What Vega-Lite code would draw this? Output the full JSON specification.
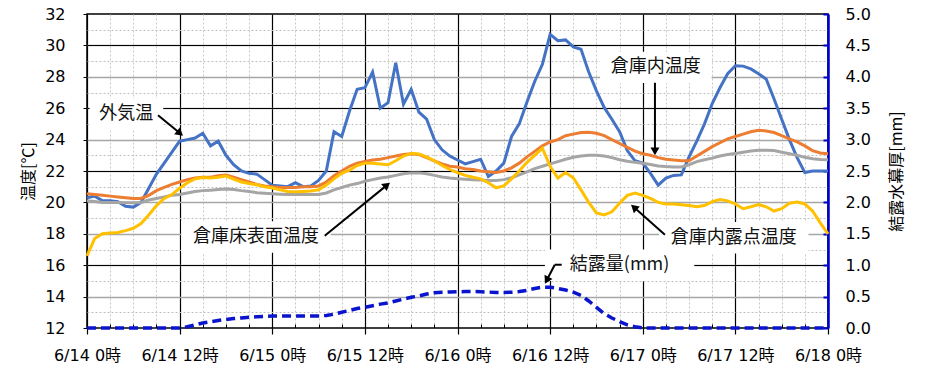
{
  "$schema": "https://vega.github.io/schema/vega-lite/v6.json",
  "width": 741,
  "height": 314,
  "autosize": {"type": "none"},
  "padding": {"left": 87, "top": 14, "right": 102, "bottom": 43},
  "background": "white",
  "config": {
    "view": {"stroke": "#000000", "strokeWidth": 1.5},
    "axis": {
      "labelFont": "DejaVu Sans, Noto Sans CJK JP",
      "labelFontSize": 16,
      "labelColor": "#000000",
      "titleFont": "Noto Sans CJK JP",
      "titleFontWeight": "normal",
      "titleFontSize": 16,
      "titleColor": "#000000",
      "labelFlush": false,
      "labelOverlap": false
    }
  },
  "datasets": {
    "series": [
      {"hour": 0, "outdoor": 20.3, "indoor": 20.55, "floor": 20.1, "dewpoint": 16.6, "cond": 0},
      {"hour": 1, "outdoor": 20.4, "indoor": 20.5, "floor": 20.05, "dewpoint": 17.7, "cond": 0},
      {"hour": 2, "outdoor": 20.1, "indoor": 20.45, "floor": 20.0, "dewpoint": 18.0, "cond": 0},
      {"hour": 3, "outdoor": 20.1, "indoor": 20.4, "floor": 20.0, "dewpoint": 18.05, "cond": 0},
      {"hour": 4, "outdoor": 20.05, "indoor": 20.35, "floor": 20.0, "dewpoint": 18.08, "cond": 0},
      {"hour": 5, "outdoor": 19.75, "indoor": 20.3, "floor": 19.98, "dewpoint": 18.2, "cond": 0},
      {"hour": 6, "outdoor": 19.7, "indoor": 20.25, "floor": 19.97, "dewpoint": 18.35, "cond": 0},
      {"hour": 7, "outdoor": 20.0, "indoor": 20.25, "floor": 20.0, "dewpoint": 18.65, "cond": 0},
      {"hour": 8, "outdoor": 20.9, "indoor": 20.45, "floor": 20.15, "dewpoint": 19.2, "cond": 0},
      {"hour": 9, "outdoor": 21.8, "indoor": 20.75, "floor": 20.25, "dewpoint": 19.8, "cond": 0},
      {"hour": 10, "outdoor": 22.5, "indoor": 20.95, "floor": 20.35, "dewpoint": 20.25, "cond": 0},
      {"hour": 11, "outdoor": 23.2, "indoor": 21.15, "floor": 20.45, "dewpoint": 20.5, "cond": 0},
      {"hour": 12, "outdoor": 23.9, "indoor": 21.3, "floor": 20.5, "dewpoint": 20.9, "cond": 0},
      {"hour": 13, "outdoor": 24.0, "indoor": 21.45, "floor": 20.6, "dewpoint": 21.25, "cond": 0.02},
      {"hour": 14, "outdoor": 24.1, "indoor": 21.55, "floor": 20.7, "dewpoint": 21.5, "cond": 0.05},
      {"hour": 15, "outdoor": 24.4, "indoor": 21.6, "floor": 20.75, "dewpoint": 21.58, "cond": 0.08},
      {"hour": 16, "outdoor": 23.6, "indoor": 21.6, "floor": 20.78, "dewpoint": 21.55, "cond": 0.1},
      {"hour": 17, "outdoor": 23.9, "indoor": 21.7, "floor": 20.82, "dewpoint": 21.6, "cond": 0.12},
      {"hour": 18, "outdoor": 23.0, "indoor": 21.75, "floor": 20.86, "dewpoint": 21.68, "cond": 0.135},
      {"hour": 19, "outdoor": 22.4, "indoor": 21.6, "floor": 20.82, "dewpoint": 21.48, "cond": 0.15},
      {"hour": 20, "outdoor": 22.0, "indoor": 21.45, "floor": 20.75, "dewpoint": 21.3, "cond": 0.16},
      {"hour": 21, "outdoor": 21.85, "indoor": 21.3, "floor": 20.7, "dewpoint": 21.2, "cond": 0.17},
      {"hour": 22, "outdoor": 21.8, "indoor": 21.15, "floor": 20.62, "dewpoint": 21.12, "cond": 0.18},
      {"hour": 23, "outdoor": 21.45, "indoor": 21.05, "floor": 20.58, "dewpoint": 21.0, "cond": 0.185},
      {"hour": 24, "outdoor": 21.1, "indoor": 21.0, "floor": 20.55, "dewpoint": 20.92, "cond": 0.19},
      {"hour": 25, "outdoor": 21.05, "indoor": 20.95, "floor": 20.52, "dewpoint": 20.8, "cond": 0.19},
      {"hour": 26, "outdoor": 21.0, "indoor": 20.95, "floor": 20.5, "dewpoint": 20.7, "cond": 0.19},
      {"hour": 27, "outdoor": 21.25, "indoor": 20.95, "floor": 20.5, "dewpoint": 20.68, "cond": 0.19},
      {"hour": 28, "outdoor": 21.0, "indoor": 21.0, "floor": 20.5, "dewpoint": 20.7, "cond": 0.19},
      {"hour": 29, "outdoor": 21.05, "indoor": 21.0, "floor": 20.5, "dewpoint": 20.72, "cond": 0.19},
      {"hour": 30, "outdoor": 21.4, "indoor": 21.05, "floor": 20.5, "dewpoint": 20.8, "cond": 0.19},
      {"hour": 31, "outdoor": 22.0, "indoor": 21.3, "floor": 20.6, "dewpoint": 21.1, "cond": 0.2},
      {"hour": 32, "outdoor": 24.5, "indoor": 21.7, "floor": 20.8, "dewpoint": 21.5, "cond": 0.22},
      {"hour": 33, "outdoor": 24.2, "indoor": 22.0, "floor": 20.95, "dewpoint": 21.85, "cond": 0.25},
      {"hour": 34, "outdoor": 25.8, "indoor": 22.3, "floor": 21.1, "dewpoint": 22.05, "cond": 0.28},
      {"hour": 35, "outdoor": 27.2, "indoor": 22.5, "floor": 21.2, "dewpoint": 22.35, "cond": 0.31},
      {"hour": 36, "outdoor": 27.3, "indoor": 22.6, "floor": 21.35, "dewpoint": 22.5, "cond": 0.33},
      {"hour": 37, "outdoor": 28.3, "indoor": 22.7, "floor": 21.45, "dewpoint": 22.5, "cond": 0.355},
      {"hour": 38, "outdoor": 26.0, "indoor": 22.75, "floor": 21.55, "dewpoint": 22.45, "cond": 0.38},
      {"hour": 39, "outdoor": 26.35, "indoor": 22.85, "floor": 21.62, "dewpoint": 22.4, "cond": 0.4},
      {"hour": 40, "outdoor": 28.9, "indoor": 22.95, "floor": 21.72, "dewpoint": 22.65, "cond": 0.43},
      {"hour": 41, "outdoor": 26.25, "indoor": 23.05, "floor": 21.82, "dewpoint": 22.95, "cond": 0.46},
      {"hour": 42, "outdoor": 27.2, "indoor": 23.1, "floor": 21.88, "dewpoint": 23.12, "cond": 0.49},
      {"hour": 43, "outdoor": 25.75, "indoor": 23.05, "floor": 21.88, "dewpoint": 23.08, "cond": 0.51},
      {"hour": 44, "outdoor": 25.3, "indoor": 22.85, "floor": 21.82, "dewpoint": 22.9, "cond": 0.54},
      {"hour": 45, "outdoor": 24.0, "indoor": 22.65, "floor": 21.72, "dewpoint": 22.65, "cond": 0.56},
      {"hour": 46, "outdoor": 23.35, "indoor": 22.45, "floor": 21.62, "dewpoint": 22.35, "cond": 0.57},
      {"hour": 47, "outdoor": 22.95, "indoor": 22.3, "floor": 21.55, "dewpoint": 22.1, "cond": 0.575},
      {"hour": 48, "outdoor": 22.7, "indoor": 22.25, "floor": 21.5, "dewpoint": 21.9, "cond": 0.578},
      {"hour": 49, "outdoor": 22.45, "indoor": 22.15, "floor": 21.48, "dewpoint": 21.72, "cond": 0.58},
      {"hour": 50, "outdoor": 22.6, "indoor": 22.1, "floor": 21.45, "dewpoint": 21.6, "cond": 0.58},
      {"hour": 51, "outdoor": 22.75, "indoor": 22.0, "floor": 21.42, "dewpoint": 21.5, "cond": 0.578},
      {"hour": 52, "outdoor": 21.65, "indoor": 21.95, "floor": 21.4, "dewpoint": 21.25, "cond": 0.572},
      {"hour": 53, "outdoor": 22.0, "indoor": 21.9, "floor": 21.4, "dewpoint": 20.93, "cond": 0.567},
      {"hour": 54, "outdoor": 22.5, "indoor": 22.0, "floor": 21.45, "dewpoint": 21.05, "cond": 0.567},
      {"hour": 55, "outdoor": 24.2, "indoor": 22.2, "floor": 21.57, "dewpoint": 21.5, "cond": 0.57},
      {"hour": 56, "outdoor": 25.0, "indoor": 22.5, "floor": 21.75, "dewpoint": 22.0, "cond": 0.58},
      {"hour": 57, "outdoor": 26.4, "indoor": 22.9, "floor": 21.95, "dewpoint": 22.55, "cond": 0.6},
      {"hour": 58, "outdoor": 27.7, "indoor": 23.25, "floor": 22.15, "dewpoint": 23.0, "cond": 0.63},
      {"hour": 59, "outdoor": 28.8, "indoor": 23.6, "floor": 22.3, "dewpoint": 23.45, "cond": 0.65},
      {"hour": 60, "outdoor": 30.7, "indoor": 23.85, "floor": 22.45, "dewpoint": 22.3, "cond": 0.65},
      {"hour": 61, "outdoor": 30.3, "indoor": 24.0, "floor": 22.6, "dewpoint": 21.55, "cond": 0.63},
      {"hour": 62, "outdoor": 30.35, "indoor": 24.25, "floor": 22.75, "dewpoint": 21.9, "cond": 0.605},
      {"hour": 63, "outdoor": 29.9, "indoor": 24.35, "floor": 22.88, "dewpoint": 21.57, "cond": 0.57},
      {"hour": 64, "outdoor": 29.75, "indoor": 24.45, "floor": 22.95, "dewpoint": 20.8, "cond": 0.52},
      {"hour": 65, "outdoor": 28.3, "indoor": 24.47, "floor": 23.0, "dewpoint": 20.0, "cond": 0.43},
      {"hour": 66, "outdoor": 27.1, "indoor": 24.4, "floor": 23.0, "dewpoint": 19.33, "cond": 0.33},
      {"hour": 67, "outdoor": 26.05, "indoor": 24.25, "floor": 22.95, "dewpoint": 19.2, "cond": 0.23},
      {"hour": 68, "outdoor": 25.3, "indoor": 24.0, "floor": 22.85, "dewpoint": 19.4, "cond": 0.16},
      {"hour": 69, "outdoor": 24.5, "indoor": 23.75, "floor": 22.72, "dewpoint": 19.95, "cond": 0.1},
      {"hour": 70, "outdoor": 23.3, "indoor": 23.5, "floor": 22.62, "dewpoint": 20.45, "cond": 0.05},
      {"hour": 71, "outdoor": 22.65, "indoor": 23.27, "floor": 22.55, "dewpoint": 20.6, "cond": 0.02},
      {"hour": 72, "outdoor": 22.5, "indoor": 23.1, "floor": 22.5, "dewpoint": 20.45, "cond": 0},
      {"hour": 73, "outdoor": 21.85, "indoor": 23.0, "floor": 22.42, "dewpoint": 20.25, "cond": 0},
      {"hour": 74, "outdoor": 21.1, "indoor": 22.85, "floor": 22.32, "dewpoint": 20.0, "cond": 0},
      {"hour": 75, "outdoor": 21.55, "indoor": 22.75, "floor": 22.28, "dewpoint": 19.9, "cond": 0},
      {"hour": 76, "outdoor": 21.72, "indoor": 22.7, "floor": 22.26, "dewpoint": 19.9, "cond": 0},
      {"hour": 77, "outdoor": 21.75, "indoor": 22.65, "floor": 22.26, "dewpoint": 19.85, "cond": 0},
      {"hour": 78, "outdoor": 22.9, "indoor": 22.65, "floor": 22.4, "dewpoint": 19.8, "cond": 0},
      {"hour": 79, "outdoor": 23.9, "indoor": 22.95, "floor": 22.6, "dewpoint": 19.72, "cond": 0},
      {"hour": 80, "outdoor": 25.0, "indoor": 23.25, "floor": 22.72, "dewpoint": 19.8, "cond": 0},
      {"hour": 81, "outdoor": 26.3, "indoor": 23.55, "floor": 22.82, "dewpoint": 20.05, "cond": 0},
      {"hour": 82, "outdoor": 27.3, "indoor": 23.8, "floor": 22.95, "dewpoint": 20.18, "cond": 0},
      {"hour": 83, "outdoor": 28.2, "indoor": 24.05, "floor": 23.05, "dewpoint": 20.1, "cond": 0},
      {"hour": 84, "outdoor": 28.7, "indoor": 24.2, "floor": 23.12, "dewpoint": 19.9, "cond": 0},
      {"hour": 85, "outdoor": 28.68, "indoor": 24.35, "floor": 23.2, "dewpoint": 19.6, "cond": 0},
      {"hour": 86, "outdoor": 28.5, "indoor": 24.5, "floor": 23.28, "dewpoint": 19.72, "cond": 0},
      {"hour": 87, "outdoor": 28.2, "indoor": 24.6, "floor": 23.32, "dewpoint": 19.86, "cond": 0},
      {"hour": 88, "outdoor": 27.85, "indoor": 24.55, "floor": 23.32, "dewpoint": 19.72, "cond": 0},
      {"hour": 89, "outdoor": 26.6, "indoor": 24.45, "floor": 23.3, "dewpoint": 19.45, "cond": 0},
      {"hour": 90, "outdoor": 25.3, "indoor": 24.25, "floor": 23.2, "dewpoint": 19.6, "cond": 0},
      {"hour": 91, "outdoor": 24.0, "indoor": 24.05, "floor": 23.1, "dewpoint": 19.95, "cond": 0},
      {"hour": 92, "outdoor": 22.85, "indoor": 23.85, "floor": 23.0, "dewpoint": 20.02, "cond": 0},
      {"hour": 93, "outdoor": 21.9, "indoor": 23.6, "floor": 22.87, "dewpoint": 19.9, "cond": 0},
      {"hour": 94, "outdoor": 22.0, "indoor": 23.3, "floor": 22.78, "dewpoint": 19.45, "cond": 0},
      {"hour": 95, "outdoor": 22.0, "indoor": 23.15, "floor": 22.73, "dewpoint": 18.7, "cond": 0},
      {"hour": 96, "outdoor": 22.0, "indoor": 23.1, "floor": 22.72, "dewpoint": 18.0, "cond": 0}
    ],
    "notes": [
      {"label": "外気温", "hour": 5.1, "temp": 25.6},
      {"label": "倉庫床表面温度", "hour": 21.9, "temp": 17.8},
      {"label": "倉庫内温度", "hour": 73.7, "temp": 28.6},
      {"label": "倉庫内露点温度", "hour": 83.8, "temp": 17.75},
      {"label": "結露量(mm)", "hour": 69.0, "temp": 16.0}
    ],
    "leaders": [
      {"sx": 9.2, "st": 25.55, "ex": 12.05, "et": 24.4, "tip": 1},
      {"sx": 30.8, "st": 17.88, "ex": 38.86, "et": 21.1, "tip": 1},
      {"sx": 73.58, "st": 27.62, "ex": 73.58, "et": 23.25, "tip": 1},
      {"sx": 74.87, "st": 17.94, "ex": 70.86, "et": 19.69, "tip": 1},
      {"sx": 60.6, "st": 16.03, "ex": 59.56, "et": 15.04, "tip": 1},
      {"sx": 60.6, "st": 16.03, "ex": 61.5, "et": 16.03, "tip": 0}
    ]
  },
  "resolve": {"scale": {"y": "independent"}, "axis": {"x": "independent", "y": "independent"}},
  "layer": [
    {
      "data": {"name": "series"},
      "mark": {"type": "line", "color": "#0A14CC", "strokeWidth": 3.5, "strokeDash": [9, 5]},
      "encoding": {
        "x": {"field": "hour", "type": "quantitative", "scale": {"domain": [0, 96], "nice": false, "zero": false},
          "axis": {"orient": "bottom", "values": [3, 6, 9, 15, 18, 21, 27, 30, 33, 39, 42, 45, 51, 54, 57, 63, 66, 69, 75, 78, 81, 87, 90, 93],
            "labels": false, "domain": false, "ticks": true, "tickSize": -4, "tickColor": "#000000", "tickWidth": 1,
            "grid": true, "gridColor": "#C8C8C8", "gridDash": [2, 2], "gridWidth": 1, "title": null}},
        "y": {"field": "cond", "type": "quantitative", "scale": {"domain": [0, 5], "nice": false, "zero": false},
          "axis": {"orient": "right", "values": [0, 0.5, 1, 1.5, 2, 2.5, 3, 3.5, 4, 4.5, 5], "format": ".1f", "grid": false,
            "domain": true, "domainColor": "#0000CC", "domainWidth": 2.5, "ticks": true, "tickColor": "#0000CC", "tickWidth": 2, "tickSize": -5,
            "labelPadding": 22, "title": "結露水幕厚[mm]", "titleAngle": -90, "titleX": 68, "titleY": 157,
            "titleAlign": "center", "titleBaseline": "middle"}}
      }
    },
    {
      "data": {"name": "notes"},
      "transform": [
        {"calculate": "length(datum.label) * 2.45 + 2.2", "as": "w"},
        {"calculate": "datum.hour - datum.w / 2", "as": "bx1"},
        {"calculate": "datum.hour + datum.w / 2", "as": "bx2"},
        {"calculate": "datum.temp - 1", "as": "bt1"},
        {"calculate": "datum.temp + 1", "as": "bt2"}
      ],
      "mark": {"type": "rect", "color": "#FFFFFF"},
      "encoding": {
        "x": {"field": "bx1", "type": "quantitative", "scale": {"domain": [0, 96], "nice": false, "zero": false}, "axis": null},
        "x2": {"field": "bx2"},
        "y": {"field": "bt1", "type": "quantitative", "scale": {"domain": [12, 32], "nice": false, "zero": false}, "axis": null},
        "y2": {"field": "bt2"}
      }
    },
    {
      "data": {"name": "series"},
      "mark": {"type": "line", "color": "#4472C4", "strokeWidth": 3},
      "encoding": {
        "x": {"field": "hour", "type": "quantitative", "scale": {"domain": [0, 96], "nice": false, "zero": false},
          "axis": {"orient": "bottom", "values": [0, 12, 24, 36, 48, 60, 72, 84, 96],
            "labelExpr": "'6/' + (14 + floor(datum.value / 24)) + ' ' + (datum.value % 24) + '時'",
            "grid": true, "gridColor": "#000000", "gridWidth": 1.2, "domain": false, "ticks": true, "tickSize": 6,
            "tickColor": "#000000", "tickWidth": 1.2, "labelPadding": 13, "title": null}},
        "y": {"field": "outdoor", "type": "quantitative", "scale": {"domain": [12, 32], "nice": false, "zero": false},
          "axis": {"orient": "left", "values": [12, 14, 16, 18, 20, 22, 24, 26, 28, 30, 32], "grid": false, "domain": false,
            "ticks": true, "tickSize": 4, "tickColor": "#000000", "labelPadding": 18,
            "title": "温度[℃]", "titleAngle": -90, "titleX": -59, "titleY": 157, "titleAlign": "center", "titleBaseline": "middle"}}
      }
    },
    {
      "data": {"name": "series"},
      "mark": {"type": "line", "color": "#ED7D31", "strokeWidth": 3},
      "encoding": {
        "x": {"field": "hour", "type": "quantitative", "scale": {"domain": [0, 96], "nice": false, "zero": false}, "axis": null},
        "y": {"field": "indoor", "type": "quantitative", "scale": {"domain": [12, 32], "nice": false, "zero": false},
          "axis": {"orient": "left", "values": [14, 16, 18, 20, 22, 24, 26, 28, 30], "grid": true, "gridColor": "#A6A6A6", "gridWidth": 1.6,
            "labels": false, "ticks": false, "domain": false, "title": null}}
      }
    },
    {
      "data": {"name": "series"},
      "mark": {"type": "line", "color": "#A5A5A5", "strokeWidth": 3},
      "encoding": {
        "x": {"field": "hour", "type": "quantitative", "scale": {"domain": [0, 96], "nice": false, "zero": false}, "axis": null},
        "y": {"field": "floor", "type": "quantitative", "scale": {"domain": [12, 32], "nice": false, "zero": false},
          "axis": {"orient": "left", "values": [16, 22, 26, 30], "grid": true, "gridColor": "#000000", "gridWidth": 1,
            "labels": false, "ticks": false, "domain": false, "title": null}}
      }
    },
    {
      "data": {"name": "series"},
      "mark": {"type": "line", "color": "#FFC000", "strokeWidth": 3},
      "encoding": {
        "x": {"field": "hour", "type": "quantitative", "scale": {"domain": [0, 96], "nice": false, "zero": false}, "axis": null},
        "y": {"field": "dewpoint", "type": "quantitative", "scale": {"domain": [12, 32], "nice": false, "zero": false},
          "axis": {"orient": "left", "values": [13, 15, 17, 19, 21, 23, 25, 27, 29, 31], "grid": true, "gridColor": "#BEBEBE", "gridDash": [2, 2], "gridWidth": 1,
            "labels": false, "ticks": false, "domain": false, "title": null}}
      }
    },
    {
      "data": {"name": "leaders"},
      "mark": {"type": "rule", "color": "#000000", "strokeWidth": 2},
      "encoding": {
        "x": {"field": "sx", "type": "quantitative", "scale": {"domain": [0, 96], "nice": false, "zero": false}, "axis": null},
        "x2": {"field": "ex"},
        "y": {"field": "st", "type": "quantitative", "scale": {"domain": [12, 32], "nice": false, "zero": false}, "axis": null},
        "y2": {"field": "et"}
      }
    },
    {
      "data": {"name": "leaders"},
      "transform": [
        {"filter": "datum.tip == 1"},
        {"calculate": "atan2((datum.ex - datum.sx) * 7.72, (datum.et - datum.st) * 15.7) * 180 / PI", "as": "ang"}
      ],
      "mark": {"type": "point", "shape": "triangle-up", "filled": true, "color": "#000000", "opacity": 1, "size": 80, "strokeWidth": 0},
      "encoding": {
        "x": {"field": "ex", "type": "quantitative", "scale": {"domain": [0, 96], "nice": false, "zero": false}, "axis": null},
        "y": {"field": "et", "type": "quantitative", "scale": {"domain": [12, 32], "nice": false, "zero": false}, "axis": null},
        "angle": {"field": "ang", "type": "quantitative", "scale": null}
      }
    },
    {
      "data": {"name": "notes"},
      "mark": {"type": "text", "font": "Noto Sans CJK JP", "fontSize": 18, "color": "#111111", "align": "center", "baseline": "middle"},
      "encoding": {
        "x": {"field": "hour", "type": "quantitative", "scale": {"domain": [0, 96], "nice": false, "zero": false}, "axis": null},
        "y": {"field": "temp", "type": "quantitative", "scale": {"domain": [12, 32], "nice": false, "zero": false}, "axis": null},
        "text": {"field": "label"}
      }
    }
  ]
}
